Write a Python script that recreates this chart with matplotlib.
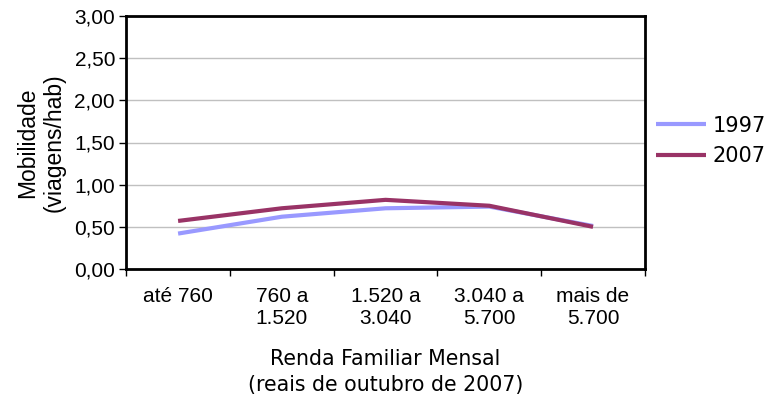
import matplotlib
matplotlib.use("Agg")
import matplotlib.pyplot as plt
import numpy as np

categories = ["até 760", "760 a\n1.520", "1.520 a\n3.040", "3.040 a\n5.700", "mais de\n5.700"]
series_names = ["1997", "2007"]
values_1997 = [0.42, 0.62, 0.72, 0.74, 0.51]
values_2007 = [0.57, 0.72, 0.82, 0.75, 0.50]
yticks = [0.0, 0.5, 1.0, 1.5, 2.0, 2.5, 3.0]
ytick_labels = ["0,00", "0,50", "1,00", "1,50", "2,00", "2,50", "3,00"]

fig = plt.figure(figsize=(7.65, 4.0), dpi=100)
ax = fig.add_axes([0.165, 0.3275, 0.678, 0.6325])

x = np.arange(len(categories))
ax.plot(x, values_1997, color="#9999FF", lw=3.0, solid_capstyle="butt", label=series_names[0], zorder=3)
ax.plot(x, values_2007, color="#993366", lw=3.0, solid_capstyle="butt", label=series_names[1], zorder=4)

ax.set_xlim(-0.5, len(categories) - 0.5)
ax.set_ylim(0, 3.0)
ax.set_yticks(yticks)
ax.set_yticklabels(ytick_labels, family="Liberation Sans", fontsize=15)
ax.set_xticks(np.arange(-0.5, len(categories), 1.0))
ax.set_xticklabels([])
ax.set_xticks(x, minor=True)
ax.set_xticklabels(categories, minor=True, family="Liberation Sans", fontsize=15, linespacing=1.2, va="top")
ax.tick_params(axis="x", which="minor", length=0, pad=13)
ax.tick_params(axis="x", which="major", length=5, width=1, color="black", direction="out")
ax.tick_params(axis="y", length=5, width=1, direction="out", pad=3)

ax.grid(axis="y", color="#C0C0C0", lw=1)
ax.set_axisbelow(True)
for s in ax.spines.values():
    s.set_color("black")
    s.set_linewidth(2)

ax.set_ylabel("Mobilidade\n(viagens/hab)", family="Liberation Sans", fontsize=16.5, labelpad=6, linespacing=1.2)
ax.set_xlabel("Renda Familiar Mensal\n(reais de outubro de 2007)", family="DejaVu Sans", fontsize=14.8, labelpad=15, linespacing=1.4)

leg = ax.legend(loc="center left", bbox_to_anchor=(1.022, 0.506), frameon=False,
                prop={"family": "DejaVu Sans", "size": 15}, handlelength=2.4, handletextpad=0.3,
                labelspacing=0.5, borderaxespad=0, borderpad=0)

fig.savefig("out.png", dpi=100, facecolor="white")
